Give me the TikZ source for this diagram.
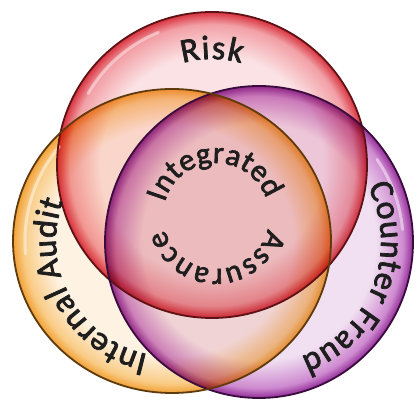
\documentclass[tikz,border=0pt]{standalone}
\usepackage{fontspec}
\setmainfont{Carlito}
\newfontfamily\lblfam{Carlito}[FakeBold=2.2]
\usetikzlibrary{decorations.text}

\definecolor{redin}{HTML}{FBE2E4}
\definecolor{redmid}{HTML}{F2A0A6}
\definecolor{redrim}{HTML}{D8323E}
\definecolor{redline}{HTML}{5E1216}
\definecolor{purpin}{HTML}{F1E0F1}
\definecolor{purpmid}{HTML}{CE8AD0}
\definecolor{purprim}{HTML}{922C98}
\definecolor{purpline}{HTML}{3A0C3E}
\definecolor{orin}{HTML}{FEF2E2}
\definecolor{ormid}{HTML}{F9CC86}
\definecolor{orrim}{HTML}{F2A035}
\definecolor{orline}{HTML}{5E3A0C}
\definecolor{txt}{HTML}{1E1E1E}

\pgfdeclareradialshading{redball}{\pgfpoint{0bp}{0bp}}{color(0bp)=(redin); color(18bp)=(redin); color(23bp)=(redmid); color(25bp)=(redrim); color(50bp)=(redrim)}
\pgfdeclareradialshading{purpball}{\pgfpoint{0bp}{0bp}}{color(0bp)=(purpin); color(19bp)=(purpin); color(23.4bp)=(purpmid); color(25bp)=(purprim); color(50bp)=(purprim)}
\pgfdeclareradialshading{orball}{\pgfpoint{0bp}{0bp}}{color(0bp)=(orin); color(19bp)=(orin); color(23.4bp)=(ormid); color(25bp)=(orrim); color(50bp)=(orrim)}

\newcommand\lblfont{\lblfam\fontsize{34}{34}\selectfont\color{txt}}
\newcommand\midfont{\lblfam\fontsize{31}{31}\selectfont\color{txt}}

\tikzset{
  rimline/.style={line width=1.8pt},
  gloss/.style={white, line width=3pt, opacity=0.45, line cap=round},
  arctext/.style={decorate, decoration={text along path, text align=fit to path, text={#1}}}
}

\begin{document}
\begin{tikzpicture}[x=1pt,y=1pt]
\useasboundingbox (0,0) rectangle (419,403);
\fill[white] (0,0) rectangle (419,403);

\coordinate (R) at (212,238);
\coordinate (P) at (259,161);
\coordinate (O) at (172,162);
\coordinate (C) at (216,187);

\begin{scope}[blend mode=multiply]
  \shade[shading=redball] (R) ellipse [x radius=155, y radius=153];
  \shade[shading=purpball] (P) ellipse [x radius=154, y radius=156];
  \shade[shading=orball] (O) ellipse [x radius=159, y radius=152];
\end{scope}

% soft glossy highlights just inside the rims
\draw[gloss] (R) ++(150:143) arc [start angle=150, end angle=112, radius=143];
\draw[gloss] (O) ++(185:147) arc [start angle=185, end angle=140, radius=147];
\draw[gloss] (P) ++(35:144) arc [start angle=35, end angle=5, radius=144];

\draw[rimline, redline] (R) ellipse [x radius=155, y radius=153];
\draw[rimline, purpline] (P) ellipse [x radius=154, y radius=156];
\draw[rimline, orline] (O) ellipse [x radius=159, y radius=152];

% labels along the circles (clockwise, tops outward)
\path[arctext={|\lblfont|Risk}] (R) ++(106:106) arc [start angle=106, end angle=74, radius=106];
\path[arctext={|\lblfont|Counter Fraud}] (P) ++(27:122) arc [start angle=27, end angle=-70, radius=122];
\path[arctext={|\lblfont|Internal Audit}] (O) ++(258:116) arc [start angle=258, end angle=160, radius=116];
\path[arctext={|\midfont|Integrated}] (C) ++(165:53) arc [start angle=165, end angle=19, radius=53];
\path[arctext={|\midfont|Assurance}] (C) ++(-14:53) arc [start angle=-14, end angle=-165, radius=53];
\end{tikzpicture}
\end{document}
